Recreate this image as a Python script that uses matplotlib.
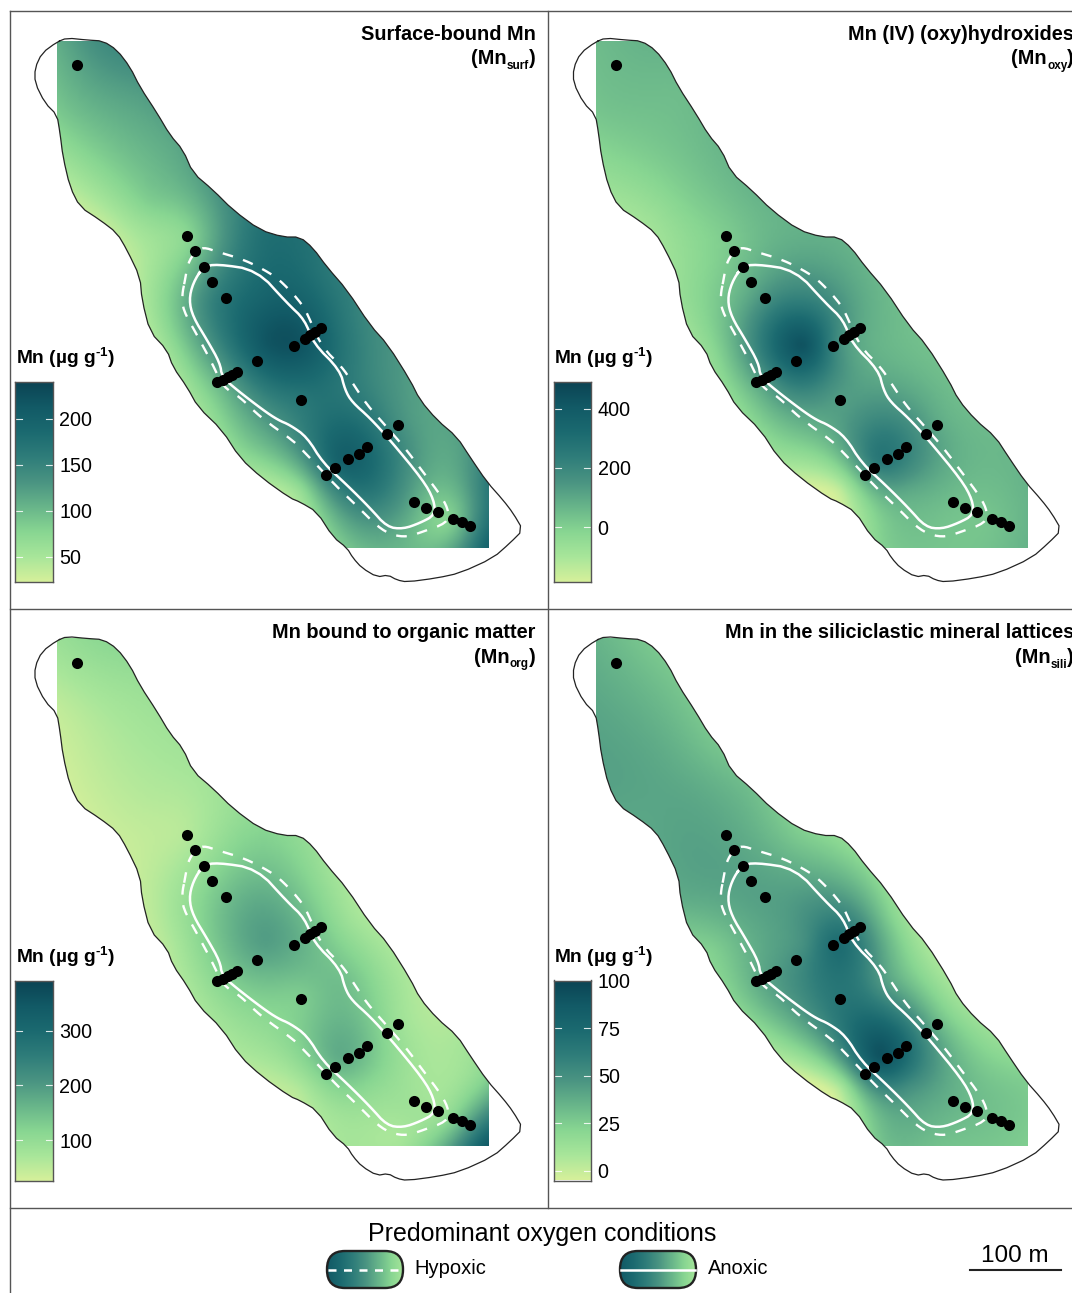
import numpy as np
import matplotlib
matplotlib.use("Agg")
import matplotlib.pyplot as plt
from matplotlib.colors import LinearSegmentedColormap, Normalize
from matplotlib.patches import PathPatch, FancyBboxPatch
from matplotlib.path import Path

plt.rcParams['font.family'] = ['Liberation Sans', 'DejaVu Sans']
plt.rcParams['mathtext.fontset'] = 'custom'
plt.rcParams['mathtext.rm'] = 'Liberation Sans'
plt.rcParams['mathtext.bf'] = 'Liberation Sans:bold'

W, H = 1072, 1293

# --- map geometry (map units) ---
lake_x = [57,67,87,103,117,130,140,157,170,183,193,213,233,260,283,300,313,327,347,370,388,410,420,437,457,470,487,503,513,523,510,493,460,437,407,397,388,377,362,353,347,333,317,300,290,262,240,222,198,187,173,167,150,142,140,127,117,100,80,70,63,60,57,45,35,35,42]
lake_y = [42,38,40,41,50,67,87,113,135,150,173,190,210,230,237,237,248,267,290,325,345,380,400,420,437,457,482,500,513,530,543,558,573,578,582,580,575,577,568,558,548,537,512,502,498,478,458,430,407,387,367,350,332,300,277,250,233,220,207,187,157,133,115,103,83,68,53]
anoxic_x = [203,193,189,193,207,220,222,237,263,278,290,307,323,347,370,387,403,420,435,434,423,390,370,352,345,340,313,305,287,257,217]
anoxic_y = [267,283,300,317,340,363,377,390,410,420,425,437,463,485,508,527,529,523,515,500,480,440,418,402,390,370,343,320,303,270,264]
hypoxic_x = [185,182,183,197,212,223,240,260,295,305,315,335,358,378,392,407,422,447,449,442,423,405,385,367,352,342,322,310,303,283,270,245,218,203,195,188]
hypoxic_y = [280,295,310,335,363,387,397,417,442,453,463,485,507,527,535,537,532,523,512,497,472,448,425,405,382,367,347,320,305,283,273,260,252,247,252,263]
station_x = [77,187,195,204,212,226,257,294,305,310,315,321,217,223,228,232,237,301,387,398,326,335,348,359,367,414,426,438,453,462,470]
station_y = [65,236,251,267,282,298,361,346,339,335,332,328,382,380,377,375,372,400,434,425,475,468,459,454,447,502,508,512,519,522,526]

# --- concentrations at control locations ---
node_x = [57,103,60,140,70,120,175,105,150,215,187,260,145,210,175,260,330,225,265,300,350,240,300,345,300,340,400,370,460,345,410,400,450,487,487]
node_y = [45,45,110,90,185,150,145,225,200,190,236,235,300,300,350,300,270,385,345,345,320,455,400,385,490,460,420,490,450,545,510,545,520,545,485]
mn_surf = [110,140,90,125,45,95,115,35,85,130,75,175,50,150,70,195,165,110,215,220,160,70,165,165,65,200,135,170,120,90,115,105,80,190,160]
mn_oxy  = [50,70,30,50,-60,20,60,-90,0,70,10,80,-50,110,-20,230,70,120,430,170,60,-60,130,110,-150,260,90,100,60,0,40,30,30,70,70]
mn_org  = [90,110,50,90,35,65,80,40,60,80,60,120,50,130,70,175,85,120,195,170,85,70,130,150,65,175,85,110,75,75,85,75,110,330,130]
mn_sili = [35,28,40,28,42,38,28,40,40,30,40,25,38,42,25,45,20,40,50,72,25,10,65,45,5,90,30,50,18,30,35,30,30,25,25]

panel_titles = ["Surface-bound Mn", "Mn (IV) (oxy)hydroxides", "Mn bound to organic matter", "Mn in the siliciclastic mineral lattices"]
panel_subs = ["surf", "oxy", "org", "sili"]
panel_values = [mn_surf, mn_oxy, mn_org, mn_sili]
cbar_ranges = [(22.8, 240), (-186, 491), (27, 391), (-5, 100)]
cbar_ticks = [[50,100,150,200], [0,200,400], [100,200,300], [0,25,50,75,100]]
legend_labels = ["Hypoxic", "Anoxic"]

cmap_colors = ["#d6f09b","#a8e69a","#88d692","#68b58a","#4a9482","#2f7d7a","#1b6a70","#125a66","#0b4454"]
cmap = LinearSegmentedColormap.from_list("mn", cmap_colors)


def chaikin(x, y, n=2):
    p = np.column_stack([x, y], ).astype(float)
    for _ in range(n):
        q = np.roll(p, -1, axis=0)
        p = np.column_stack([0.75*p + 0.25*q, 0.25*p + 0.75*q]).reshape(-1, 2)
    return np.vstack([p, p[:1]])


def tps(nx, ny, v, gx, gy, lam=30.0):
    nx, ny, v = map(lambda a: np.asarray(a, float), (nx, ny, v))
    def k(r2):
        with np.errstate(divide='ignore', invalid='ignore'):
            out = 0.5*r2*np.log(r2 + 1e-9)
        return out
    n = len(nx)
    K = k((nx[:, None]-nx[None, :])**2 + (ny[:, None]-ny[None, :])**2) + lam*np.eye(n)
    P = np.column_stack([np.ones(n), nx, ny])
    A = np.block([[K, P], [P.T, np.zeros((3, 3))]])
    w = np.linalg.solve(A, np.r_[v, 0, 0, 0])
    r2 = (gx[..., None]-nx)**2 + (gy[..., None]-ny)**2
    return k(r2) @ w[:n] + w[n] + w[n+1]*gx + w[n+2]*gy


def frac(px, py, w, h):
    return [px/W, 1-(py+h)/H, w/W, h/H]


fig = plt.figure(figsize=(W/100, H/100), dpi=100)
renderer = fig.canvas.get_renderer()
bg = fig.add_axes([0, 0, 1, 1])
bg.set_xlim(0, W); bg.set_ylim(H, 0); bg.axis('off')
c_frame = "#555555"
bg.plot([9.5, W], [11, 11], color=c_frame, lw=1.0)
bg.plot([9.5, 9.5], [11, H], color=c_frame, lw=1.0)
bg.plot([548, 548], [11, 1208], color=c_frame, lw=1.0)
bg.plot([9.5, W], [609, 609], color=c_frame, lw=1.0)
bg.plot([9.5, W], [1207.5, 1207.5], color=c_frame, lw=1.0)

lake = chaikin(lake_x, lake_y, 1)
anox = chaikin(anoxic_x, anoxic_y)
hypo = chaikin(hypoxic_x, hypoxic_y)
gx, gy = np.meshgrid(np.arange(57, 489.5, 2.0), np.arange(41, 548.5, 2.0))


def right_text(x, y, s, **kw):
    t = bg.text(x, y, s, ha='right', va='baseline', fontweight='bold', color='black', zorder=6, **kw)
    return x - t.get_window_extent(renderer).width


offsets = [(0, 0), (538.5, 0), (0, 598.5), (538.5, 598.5)]
for i, (dx, dy) in enumerate(offsets):
    ax = fig.add_axes(frac(10+dx, 12+dy, 538, 597))
    ax.set_xlim(10, 548); ax.set_ylim(609, 12); ax.axis('off')
    ax.patch.set_alpha(0)
    vmin, vmax = cbar_ranges[i]
    norm = Normalize(vmin, vmax)
    z = tps(node_x, node_y, panel_values[i], gx, gy)
    im = ax.imshow(z, extent=(57, 489, 548, 41), cmap=cmap, norm=norm, interpolation='bilinear', aspect='auto', zorder=1)
    patch = PathPatch(Path(lake), transform=ax.transData, fc='none', ec='none')
    ax.add_patch(patch)
    im.set_clip_path(patch)
    ax.set_xlim(10, 548); ax.set_ylim(609, 12)
    ax.plot(lake[:, 0], lake[:, 1], color="#222222", lw=0.9, zorder=2)
    ax.plot(anox[:, 0], anox[:, 1], color="white", lw=1.8, zorder=3)
    ax.plot(hypo[:, 0], hypo[:, 1], color="white", lw=1.7, ls=(0, (4.5, 4.5)), zorder=3)
    ax.plot(station_x, station_y, 'o', color="black", ms=8, mew=0, zorder=4)

    rx = 535.5 + dx
    bg.text(rx, 39.5+dy, panel_titles[i], ha='right', va='baseline', fontsize=14.3, fontweight='bold', color="black", zorder=6)
    xr = right_text(rx, 64.5+dy, ")", fontsize=14.3)
    xr = right_text(xr, 69+dy, panel_subs[i], fontsize=8.5)
    right_text(xr, 64.5+dy, "(Mn", fontsize=14.3)
    bg.text(16+dx, 358+dy, "Mn (µg g$^{\\mathbf{\u20101}}$)", ha='left', va='center', fontsize=13.8, fontweight='bold', color="black", zorder=6)

    cax = fig.add_axes(frac(15+dx, 382+dy, 38, 200))
    grad = np.linspace(vmin, vmax, 256).reshape(-1, 1)
    cax.imshow(grad, extent=(0, 1, vmin, vmax), origin='lower', aspect='auto', cmap=cmap, norm=norm)
    cax.set_xlim(0, 1); cax.set_ylim(vmin, vmax)
    cax.set_xticks([])
    cax.set_yticks(cbar_ticks[i])
    cax.yaxis.tick_right()
    cax.tick_params(axis='y', length=0, pad=4.5, labelsize=14.2, labelcolor="black")
    for t in cbar_ticks[i]:
        cax.plot([0, 0.19], [t, t], color="white", lw=0.8, alpha=0.85)
        cax.plot([0.81, 1], [t, t], color="white", lw=0.8, alpha=0.85)
    for s in cax.spines.values():
        s.set_color("#555555"); s.set_linewidth(1.0)

# legend
bg.text(542, 1233.5, "Predominant oxygen conditions", ha='center', va='center', fontsize=18, color="black")
for (x0, label, tx, dash) in [(327, legend_labels[0], 414, True), (620, legend_labels[1], 708, False)]:
    w, h = 76, 37
    y0 = 1251
    pill = FancyBboxPatch((x0+18, y0+18), w-36, h-36, boxstyle="round,pad=18,rounding_size=18", transform=bg.transData, fc='none', ec='#222222', lw=1.7, zorder=3, mutation_aspect=1)
    bg.add_patch(pill)
    im = bg.imshow(np.linspace(0.88, 0.14, 128).reshape(1, -1),
                   extent=(x0, x0+w, y0+h, y0), cmap=cmap, vmin=0, vmax=1, aspect='auto', zorder=2)
    im.set_clip_path(pill)
    bg.plot([x0+1, x0+w-1], [y0+h/2, y0+h/2], color='white', lw=1.8, ls=(0, (3.2, 3)) if dash else '-', zorder=4)
    bg.text(tx, 1269, label, ha='left', va='center', fontsize=14.5, color="black")
bg.set_xlim(0, W); bg.set_ylim(H, 0)

bg.plot([970, 1061], [1270, 1270], color="#222222", lw=1.5)
bg.text(1015, 1256.5, "100 m", ha='center', va='center', fontsize=17.5, color="black")

fig.savefig("out.png", dpi=100)
